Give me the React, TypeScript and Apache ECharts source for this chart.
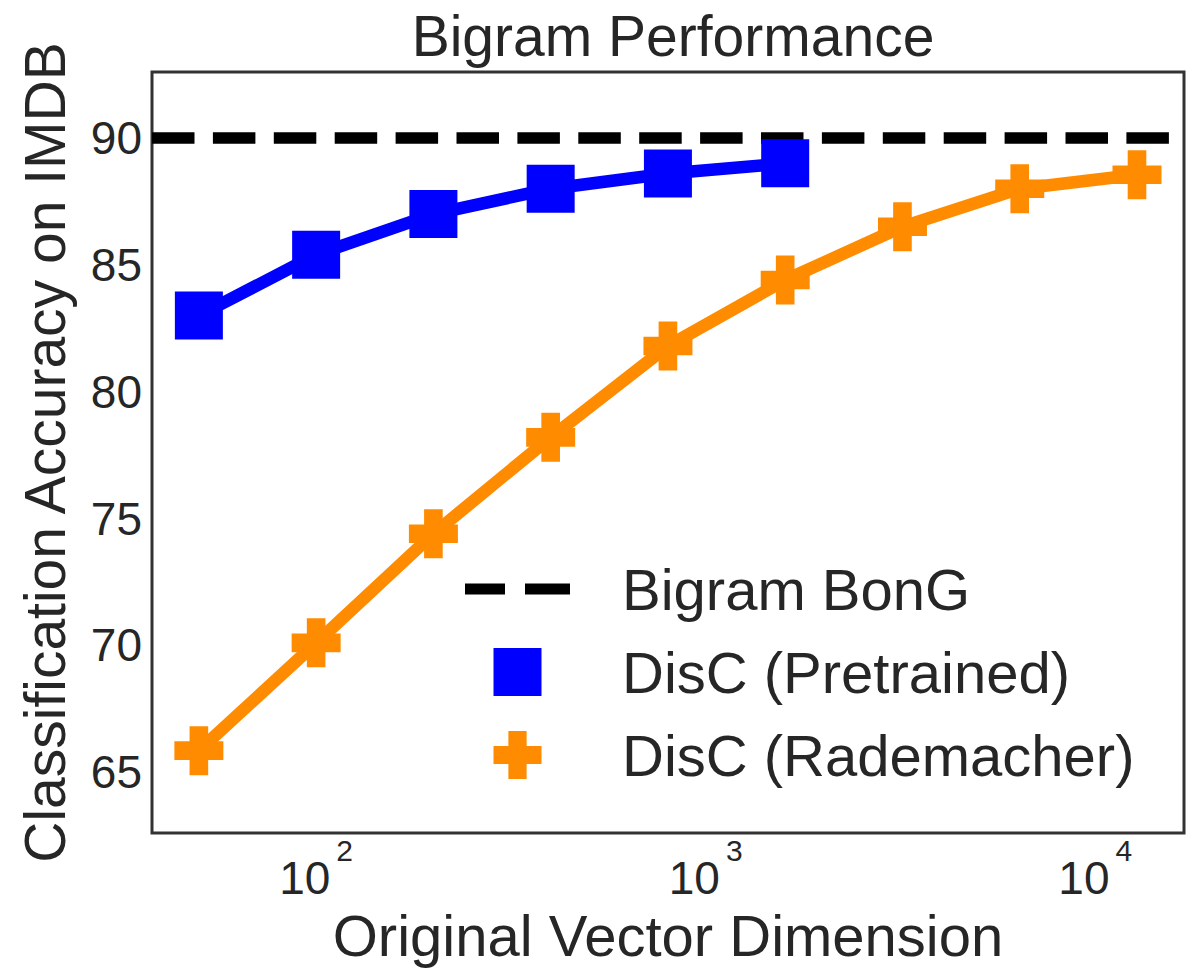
import React, { useEffect, useRef } from 'react';
import * as echarts from 'echarts';

const seriesNames = ['Bigram BonG', 'DisC (Pretrained)', 'DisC (Rademacher)'];
const rademacherDims = [50, 100, 200, 400, 800, 1600, 3200, 6400, 12800];
const rademacherAcc = [65.85, 70.1, 74.4, 78.2, 81.8, 84.4, 86.5, 88.0, 88.55];
const pretrainedDims = [50, 100, 200, 400, 800, 1600];
const pretrainedAcc = [83.0, 85.4, 87.0, 88.0, 88.6, 89.0];
const bongAcc = 90;
const xRange = [37.9, 16900];
const yRange = [62.6, 92.6];
const titleText = 'Bigram Performance';
const xName = 'Original Vector Dimension';
const yName = 'Classification Accuracy on IMDB';

const FONT = '"Liberation Sans", Arial, sans-serif';
const TEXT = '#262626';

export default function App() {
  const ref = useRef<HTMLDivElement>(null);
  useEffect(() => {
    if (!ref.current) return;
    const chart = echarts.init(ref.current, undefined, { renderer: 'svg' });
    const plusPath = 'path://M31,0H69V31H100V69H69V100H31V69H0V31H31Z';
    const squarePath = 'path://M0,0H10V10H0Z';
    const dashPath = 'path://M0,0H40V11H0Z M60,0H105V11H60Z';
    chart.setOption({
      animation: false,
      backgroundColor: '#ffffff',
      textStyle: { fontFamily: FONT },
      title: {
        text: titleText,
        left: 668,
        top: 0,
        textAlign: 'center',
        textStyle: { fontSize: 57, fontWeight: 'normal', color: TEXT, fontFamily: FONT, lineHeight: 62 },
      },
      grid: {
        left: 152,
        right: 17,
        top: 72,
        bottom: 130,
        show: true,
        borderColor: '#333333',
        borderWidth: 3,
        backgroundColor: 'transparent',
      },
      legend: {
        orient: 'vertical',
        left: 465,
        top: 560,
        padding: 0,
        itemWidth: 105,
        itemHeight: 48,
        itemGap: 25,
        symbolKeepAspect: true,
        itemStyle: { borderWidth: 0 },
        textStyle: { fontSize: 58, color: TEXT, fontFamily: FONT, padding: [0, 0, 0, 47], lineHeight: 46 },
        data: [
          { name: seriesNames[0], icon: dashPath },
          { name: seriesNames[1], icon: squarePath },
          { name: seriesNames[2], icon: plusPath },
        ],
      },
      xAxis: {
        type: 'log',
        logBase: 10,
        min: xRange[0],
        max: xRange[1],
        name: xName,
        nameLocation: 'middle',
        nameGap: 70,
        nameTextStyle: { fontSize: 58, color: TEXT, fontFamily: FONT },
        axisLine: { show: false },
        axisTick: { show: false },
        splitLine: { show: false },
        minorTick: { show: false },
        axisLabel: {
          margin: 2,
          showMinLabel: false,
          showMaxLabel: false,
          formatter: (v: number) => {
            const e = Math.log10(v);
            if (Math.abs(e - Math.round(e)) > 1e-6) return '';
            return `{b|10}{e|${Math.round(e)}}`;
          },
          rich: {
            b: { fontSize: 46, color: TEXT, fontFamily: FONT, lineHeight: 66, verticalAlign: 'bottom' },
            e: { fontSize: 30, color: TEXT, fontFamily: FONT, lineHeight: 30, verticalAlign: 'top', padding: [0, 0, 0, 6] },
          },
        },
      },
      yAxis: {
        type: 'value',
        min: yRange[0],
        max: yRange[1],
        name: yName,
        nameLocation: 'middle',
        nameGap: 79,
        nameTextStyle: { fontSize: 57, color: TEXT, fontFamily: FONT },
        axisLine: { show: false },
        axisTick: { show: false },
        splitLine: { show: false },
        axisLabel: {
          margin: 10,
          fontSize: 46,
          color: TEXT,
          fontFamily: FONT,
          showMinLabel: false,
          showMaxLabel: false,
          formatter: (v: number) => (Math.abs(v % 5) < 1e-6 ? String(v) : ''),
        },
      },
      series: [
        {
          name: seriesNames[0],
          type: 'line',
          data: [[xRange[0], bongAcc], [xRange[1], bongAcc]],
          symbol: 'none',
          color: '#000000',
          lineStyle: { color: '#000000', width: 11.5, type: [42.5, 18.4], cap: 'butt' },
          itemStyle: { color: '#000000', borderWidth: 0 },
          z: 2,
        },
        {
          name: seriesNames[1],
          type: 'line',
          data: pretrainedDims.map((d, i) => [d, pretrainedAcc[i]]),
          symbol: 'rect',
          symbolSize: 48,
          color: '#0000ff',
          lineStyle: { color: '#0000ff', width: 12.5 },
          itemStyle: { color: '#0000ff', borderWidth: 0 },
          z: 3,
        },
        {
          name: seriesNames[2],
          type: 'line',
          data: rademacherDims.map((d, i) => [d, rademacherAcc[i]]),
          symbol: plusPath,
          symbolSize: 49,
          color: '#ff8c00',
          lineStyle: { color: '#ff8c00', width: 12.5 },
          itemStyle: { color: '#ff8c00', borderWidth: 0 },
          z: 4,
        },
      ],
    });
    return () => chart.dispose();
  }, []);
  return <div ref={ref} style={{ position: 'absolute', left: 0, top: 0, width: 1201, height: 969 }} />;
}
